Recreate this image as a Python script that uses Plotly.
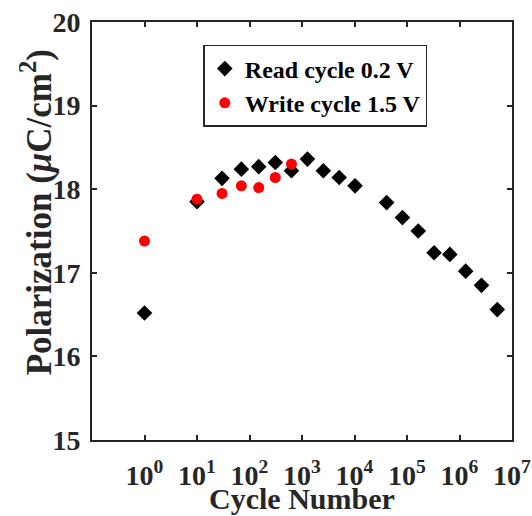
import plotly.graph_objects as go

# Read cycle 0.2 V (black diamonds)
read_cycles = [1, 10, 30, 70, 150, 310, 630, 1270, 2550, 5110, 10230,
               40950, 81910, 163830, 327670, 655350, 1310710, 2621430, 5242870]
read_pol = [16.52, 17.85, 18.13, 18.24, 18.27, 18.32, 18.22, 18.36, 18.22, 18.14, 18.04,
            17.84, 17.66, 17.50, 17.24, 17.22, 17.02, 16.85, 16.56]

# Write cycle 1.5 V (red circles)
write_cycles = [1, 10, 30, 70, 150, 310, 630]
write_pol = [17.38, 17.88, 17.95, 18.04, 18.02, 18.14, 18.30]

x_tickvals = [1e0, 1e1, 1e2, 1e3, 1e4, 1e5, 1e6, 1e7]
x_ticktext = ["10<sup>%d</sup>" % i for i in range(8)]
y_tickvals = [15, 16, 17, 18, 19, 20]

FONT = "Liberation Serif"
AX = "#262626"

fig = go.Figure()
fig.add_trace(go.Scatter(
    x=read_cycles, y=read_pol, mode="markers", name="<b>Read cycle 0.2 V</b>",
    marker=dict(symbol="diamond", size=12, color="black"),
))
fig.add_trace(go.Scatter(
    x=write_cycles, y=write_pol, mode="markers", name="<b>Write cycle 1.5 V</b>",
    marker=dict(symbol="circle", size=11, color="#ff0000"),
))

fig.update_layout(
    width=532, height=516,
    margin=dict(l=92, r=20, t=22, b=76),
    paper_bgcolor="white", plot_bgcolor="white",
    font=dict(family=FONT, color=AX),
    showlegend=True,
    legend=dict(
        x=0.265, y=0.945, xanchor="left", yanchor="top",
        bgcolor="white", bordercolor=AX, borderwidth=1.5,
        font=dict(family=FONT, size=24, color="black"),
        itemwidth=30, tracegroupgap=0,
    ),
    xaxis=dict(
        type="log", range=[-1, 7], automargin=False,
        tickvals=x_tickvals, ticktext=x_ticktext,
        tickfont=dict(family=FONT, size=28, color=AX, weight="bold"),
        ticks="inside", ticklen=5, tickwidth=1.5, tickcolor=AX,
        showline=True, linecolor=AX, linewidth=2, mirror="ticks",
        showgrid=False, zeroline=False,
        ticklabelstandoff=9,
    ),
    yaxis=dict(
        range=[15, 20], tickvals=y_tickvals, automargin=False,
        tickfont=dict(family=FONT, size=28, color=AX, weight="bold"),
        ticks="inside", ticklen=5, tickwidth=1.5, tickcolor=AX,
        showline=True, linecolor=AX, linewidth=2, mirror="ticks",
        showgrid=False, zeroline=False,
        ticklabelstandoff=4,
    ),
    annotations=[
        dict(
            text="<b>Polarization (<i>\u03bc</i>C/cm<sup>2</sup>)</b>",
            xref="paper", yref="paper", x=-0.133, y=0.545,
            xanchor="center", yanchor="middle", textangle=-90, showarrow=False,
            font=dict(family=FONT, size=35, color=AX),
        ),
        dict(
            text="<b>Cycle Number</b>",
            xref="paper", yref="paper", x=0.5, y=-0.14,
            xanchor="center", yanchor="middle", showarrow=False,
            font=dict(family=FONT, size=30, color=AX),
        ),
    ],
)

fig.write_html("out.html")
